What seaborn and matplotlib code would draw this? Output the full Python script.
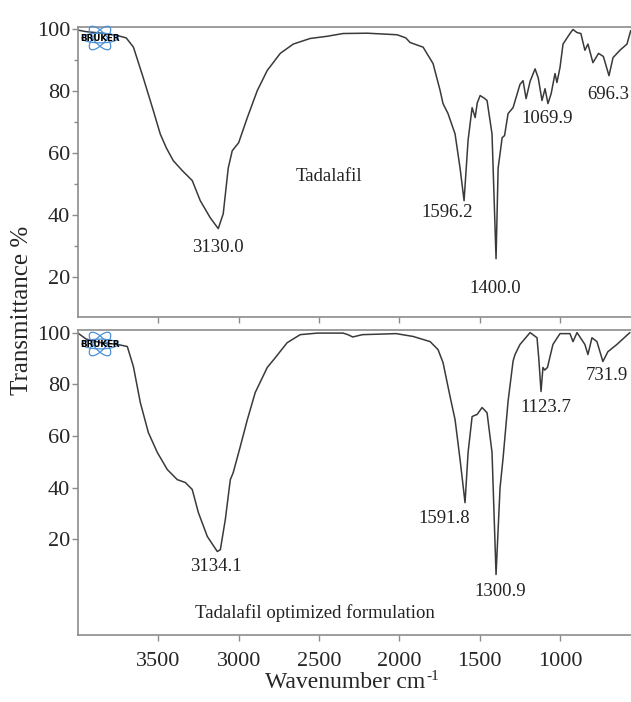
import numpy as np
import pandas as pd
import matplotlib
matplotlib.use("Agg")
import matplotlib.pyplot as plt
from matplotlib.patches import Ellipse
import seaborn as sns

# Tadalafil (top spectrum) - wavenumber (cm-1) and transmittance (%)
pure_wn = [4000, 3950, 3850, 3760, 3700, 3655, 3593, 3531, 3488, 3450, 3407, 3351,
           3289, 3239, 3177, 3127, 3096, 3065, 3040, 3000, 2946, 2884, 2822, 2741,
           2660, 2555, 2450, 2350, 2200, 2014, 1960, 1933, 1852, 1790, 1746, 1728,
           1697, 1653, 1622, 1597, 1572, 1547, 1528, 1515, 1497, 1470, 1454, 1423,
           1398, 1385, 1360, 1345, 1323, 1292, 1249, 1230, 1211, 1186, 1155, 1135,
           1112, 1093, 1075, 1055, 1031, 1019, 1000, 981, 938, 919, 894, 870,
           845, 826, 795, 760, 730, 695, 670, 627, 583, 560]
pure_T = [99.5, 99.0, 98.5, 97.8, 97.0, 94.0, 84.0, 73.5, 66.0, 61.5, 57.4, 54.2,
          51.0, 44.5, 39.0, 35.5, 40.3, 55.0, 60.6, 63.2, 71.3, 80.0, 86.5, 92.0,
          95.0, 96.8, 97.5, 98.4, 98.5, 98.0, 97.0, 95.5, 94.0, 88.7, 80.0, 75.8,
          72.6, 66.0, 55.0, 44.5, 64.0, 74.5, 71.3, 76.0, 78.4, 77.5, 76.8, 66.0,
          25.8, 55.0, 64.8, 65.5, 72.6, 74.5, 82.0, 83.2, 77.4, 83.0, 87.0, 84.0,
          76.8, 80.6, 75.8, 79.0, 85.5, 82.6, 87.4, 95.0, 98.4, 99.7, 98.7, 98.4,
          93.0, 95.0, 89.0, 92.0, 91.0, 84.8, 90.6, 93.0, 95.0, 99.3]

# Tadalafil optimized formulation (bottom spectrum)
form_wn = [4000, 3950, 3850, 3760, 3693, 3655, 3612, 3562, 3506, 3444, 3382, 3332,
           3289, 3251, 3195, 3133, 3114, 3083, 3052, 3034, 2990, 2946, 2897, 2822,
           2772, 2698, 2617, 2511, 2350, 2320, 2290, 2230, 2020, 1914, 1808, 1759,
           1728, 1684, 1653, 1622, 1591, 1572, 1547, 1530, 1516, 1485, 1454, 1423,
           1398, 1373, 1354, 1323, 1292, 1280, 1249, 1186, 1143, 1132, 1118, 1106,
           1095, 1078, 1044, 1000, 938, 919, 894, 845, 826, 801, 770, 733,
           702, 646, 565]
form_T = [99.8, 97.5, 96.0, 95.5, 94.6, 86.8, 72.9, 61.3, 53.6, 47.0, 43.1, 42.0,
          39.3, 30.4, 21.1, 15.3, 16.0, 27.7, 43.1, 45.8, 55.9, 66.3, 76.8, 86.5,
          90.3, 96.1, 99.2, 99.8, 99.8, 99.2, 98.3, 99.2, 99.6, 98.5, 96.5, 93.4,
          88.4, 75.2, 66.3, 50.9, 34.2, 53.6, 67.5, 68.0, 68.3, 71.0, 69.0, 53.6,
          6.4, 40.0, 51.6, 73.5, 89.0, 91.5, 95.4, 100.0, 98.0, 90.0, 77.2, 86.5,
          85.5, 86.5, 95.4, 99.6, 99.6, 96.5, 100.0, 95.4, 91.5, 98.0, 96.5, 88.8,
          92.6, 95.4, 100.0]

# peak labels: text and the wavenumber of the band they mark
pure_peak_text = ["3130.0", "1596.2", "1400.0", "1069.9", "696.3"]
pure_peak_wn = [3127, 1597, 1398, 1075, 695]
form_peak_text = ["3134.1", "1591.8", "1300.9", "1123.7", "731.9"]
form_peak_wn = [3133, 1591, 1398, 1118, 733]

xticks = [3500, 3000, 2500, 2000, 1500, 1000]

sns.set_style("ticks")
plt.rcParams['font.family'] = ['Liberation Serif', 'DejaVu Serif']

W, H = 631, 702
fig = plt.figure(figsize=(W / 100, H / 100), dpi=100)

def px_axes(x0, y0, x1, y1):
    return fig.add_axes([x0 / W, 1 - y1 / H, (x1 - x0) / W, (y1 - y0) / H])

ax1 = px_axes(78, 27, 631, 317)
ax2 = px_axes(78, 330, 631, 635)

df_pure = pd.DataFrame({'wn': pure_wn, 'T': pure_T})
df_form = pd.DataFrame({'wn': form_wn, 'T': form_T})

line_col = '#3a3a3a'
spine_col = '#8c8c8c'

for ax, df in [(ax1, df_pure), (ax2, df_form)]:
    sns.lineplot(data=df, x='wn', y='T', ax=ax, color=line_col, linewidth=1.1,
                 sort=False, estimator=None)
    ax.set_xlim(4000, 558)
    ax.set_xticks(xticks)
    ax.set_xlabel('')
    ax.set_ylabel('')
    ax.spines['right'].set_visible(False)
    for s in ['left', 'top', 'bottom']:
        ax.spines[s].set_color(spine_col)
        ax.spines[s].set_linewidth(1.2)
    ax.tick_params(axis='both', direction='out', length=4, width=1, color=spine_col,
                   labelsize=16, pad=1.5)
    ax.set_yticks([20, 40, 60, 80, 100])

ax1.set_ylim(7, 100.5)
ax1.set_yticks([30, 50, 70, 90], minor=True)
ax1.tick_params(axis='y', which='minor', direction='out', length=3, width=1, color=spine_col)
ax1.tick_params(axis='x', labelbottom=False)
ax2.set_ylim(-17, 101)
ax2.tick_params(axis='x', pad=8)

# peak labels
def label_peaks(ax, wn, T, texts, peaks, offsets):
    order = np.argsort(wn)
    for txt, p, off in zip(texts, peaks, offsets):
        t = np.interp(p, np.array(wn)[order], np.array(T)[order])
        ax.annotate(txt, xy=(p, t), xytext=off, textcoords='offset pixels',
                    ha='center', va='center', fontsize=13.5, color='#222222')

label_peaks(ax1, pure_wn, pure_T, pure_peak_text, pure_peak_wn,
            [(0, -19), (-17, -12), (-1, -30), (-1, -15), (-1, -19)])
label_peaks(ax2, form_wn, form_T, form_peak_text, form_peak_wn,
            [(-1, -15), (-21, -16), (4, -17), (5, -16), (4, -14)])

ax1.text(0.454, 0.483, 'Tadalafil', transform=ax1.transAxes, ha='center', va='center',
         fontsize=13.5, color='#222222')
ax2.text(0.429, 0.072, 'Tadalafil optimized formulation', transform=ax2.transAxes,
         ha='center', va='center', fontsize=13.5, color='#222222')

# small Bruker logo in the corner of each panel
def bruker_logo(x0, y0):
    lax = px_axes(x0, y0, x0 + 38, y0 + 28)
    lax.set_xlim(-1, 1)
    lax.set_ylim(-1, 1)
    lax.axis('off')
    for ang in [0, 60, 120]:
        lax.add_patch(Ellipse((0, 0), 1.9, 0.7, angle=ang, fill=False,
                              edgecolor='#4a90d9', linewidth=0.9))
    lax.text(0.0, -0.05, 'BRUKER', ha='center', va='center', fontsize=6.3,
             fontweight='bold', color='black', family='DejaVu Sans')

bruker_logo(81, 24)
bruker_logo(81, 330)

fig.text(22 / W, 1 - 310 / H, 'Transmittance %', rotation=90, ha='center', va='center',
         fontsize=18)
xl = fig.text(345 / W, 1 - 683 / H, 'Wavenumber cm', ha='center', va='center',
              fontsize=17)
fig.canvas.draw()
bb = xl.get_window_extent()
fig.text((bb.x1 + 1) / W, (bb.y1 - 4) / H, '-1', ha='left', va='center', fontsize=11)

fig.savefig('out.png', dpi=100)
